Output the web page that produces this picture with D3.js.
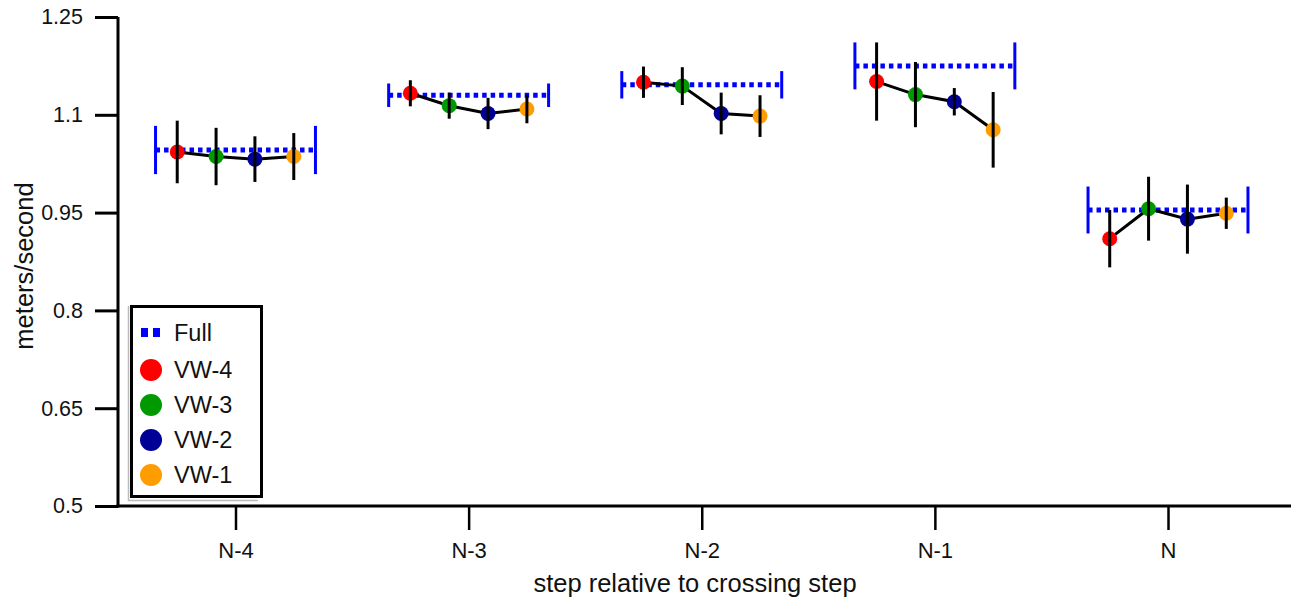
<!DOCTYPE html>
<html><head><meta charset="utf-8">
<script src="https://cdn.jsdelivr.net/npm/d3@7"></script>
<style>body{margin:0;background:#fff}svg{display:block}text{font-family:"Liberation Sans",Arial,Helvetica,sans-serif}</style>
</head><body><svg id="c" width="1291" height="600"></svg>
<script>
const categories = ["N-4","N-3","N-2","N-1","N"];
const seriesNames = ["VW-4","VW-3","VW-2","VW-1"];
const seriesColors = ["#ff0000","#009a00","#000096","#ff9c00"];
const fullMean = [1.046, 1.130, 1.146, 1.175, 0.954];
const fullErr  = [0.037, 0.018, 0.021, 0.036, 0.036];
const vw4Mean = [1.043, 1.133, 1.150, 1.151, 0.910];
const vw4Err  = [0.048, 0.020, 0.024, 0.060, 0.044];
const vw3Mean = [1.036, 1.114, 1.144, 1.131, 0.956];
const vw3Err  = [0.044, 0.020, 0.029, 0.050, 0.049];
const vw2Mean = [1.032, 1.102, 1.102, 1.120, 0.940];
const vw2Err  = [0.035, 0.024, 0.032, 0.021, 0.053];
const vw1Mean = [1.036, 1.109, 1.098, 1.077, 0.949];
const vw1Err  = [0.036, 0.022, 0.032, 0.058, 0.024];
const yTicks = [0.5, 0.65, 0.8, 0.95, 1.1, 1.25];
const yTickLabels = ["0.5","0.65","0.8","0.95","1.1","1.25"];
const yTitle = "meters/second";
const xTitle = "step relative to crossing step";

const means = [vw4Mean, vw3Mean, vw2Mean, vw1Mean];
const errs = [vw4Err, vw3Err, vw2Err, vw1Err];

const svg = d3.select("#c");
const y = d3.scaleLinear().domain([0.5, 1.25]).range([506, 17]);
const x = d3.scalePoint().domain(categories).range([235.5, 1168]);
const step = x.step();
const offsets = d3.scalePoint().domain(seriesNames).range([-0.25*step, 0.25*step]);
const fullHalf = 0.343*step;

// axes
const yAx = svg.append("g").attr("transform","translate(118,0)")
  .call(d3.axisLeft(y).tickValues(yTicks).tickFormat((d,i)=>yTickLabels[i]).tickSize(23).tickSizeOuter(0).tickPadding(12));
yAx.selectAll("path,line").attr("stroke","#000").attr("stroke-width",3);
yAx.selectAll("text").attr("font-size",21.5).attr("fill","#111");
yAx.select(".domain").attr("d","M0,"+y(1.25)+"V"+(y(0.5)+1.5));

const xAx = svg.append("g").attr("transform","translate(0,506)")
  .call(d3.axisBottom(x).tickSize(24).tickSizeOuter(0).tickPadding(12));
xAx.select(".domain").attr("d","M116.5,0H1291");
xAx.selectAll("path,line").attr("stroke","#000").attr("stroke-width",3);
xAx.selectAll("line").attr("stroke-width",2.5);
xAx.selectAll("text").attr("font-size",22).attr("fill","#111");

svg.append("text").attr("transform","translate(33,266) rotate(-90)").attr("text-anchor","middle")
  .attr("font-size",25.5).attr("fill","#111").text(yTitle);
svg.append("text").attr("x",695).attr("y",592).attr("text-anchor","middle")
  .attr("font-size",25.5).attr("fill","#111").text(xTitle);

// Full
const fg = svg.append("g");
categories.forEach((c,i)=>{
  const cx = x(c);
  fg.append("line").attr("x1",cx-fullHalf).attr("x2",cx+fullHalf).attr("y1",y(fullMean[i])).attr("y2",y(fullMean[i]))
    .attr("stroke","#0000ff").attr("stroke-width",5).attr("stroke-dasharray","4.5,4");
  [-1,1].forEach(s=>{
    fg.append("line").attr("x1",cx+s*fullHalf).attr("x2",cx+s*fullHalf)
      .attr("y1",y(fullMean[i]+fullErr[i])).attr("y2",y(fullMean[i]-fullErr[i]))
      .attr("stroke","#0000ff").attr("stroke-width",3);
  });
});

// connecting lines
categories.forEach((c,i)=>{
  const pts = seriesNames.map((s,k)=>[x(c)+offsets(s), y(means[k][i])]);
  svg.append("path").attr("d", d3.line()(pts)).attr("fill","none").attr("stroke","#000").attr("stroke-width",3);
});
// circles
categories.forEach((c,i)=>{
  seriesNames.forEach((s,k)=>{
    svg.append("circle").attr("cx",x(c)+offsets(s)).attr("cy",y(means[k][i])).attr("r",7.5).attr("fill",seriesColors[k]);
  });
});
// error bars
categories.forEach((c,i)=>{
  seriesNames.forEach((s,k)=>{
    const cx = x(c)+offsets(s);
    svg.append("line").attr("x1",cx).attr("x2",cx).attr("y1",y(means[k][i]+errs[k][i])).attr("y2",y(means[k][i]-errs[k][i]))
      .attr("stroke","#000").attr("stroke-width",3);
  });
});

// legend
const lg = svg.append("g");
lg.append("path").attr("d","M128.5,306V500.5H258").attr("fill","none").attr("stroke","#bbb").attr("stroke-width",1.5);
lg.append("rect").attr("x",131.5).attr("y",306.5).attr("width",130).attr("height",190).attr("fill","#fff").attr("stroke","#000").attr("stroke-width",3);
lg.append("rect").attr("x",141).attr("y",328).attr("width",7).attr("height",9).attr("fill","#0000ff");
lg.append("rect").attr("x",153).attr("y",328).attr("width",7).attr("height",9).attr("fill","#0000ff");
lg.append("text").attr("x",174).attr("y",341).attr("font-size",23.5).attr("fill","#111").text("Full");
seriesNames.forEach((s,k)=>{
  const yy = 370 + k*35;
  lg.append("circle").attr("cx",151).attr("cy",yy).attr("r",11).attr("fill",seriesColors[k]);
  lg.append("text").attr("x",174).attr("y",yy+8).attr("font-size",23.5).attr("fill","#111").text(s);
});
</script></body></html>
